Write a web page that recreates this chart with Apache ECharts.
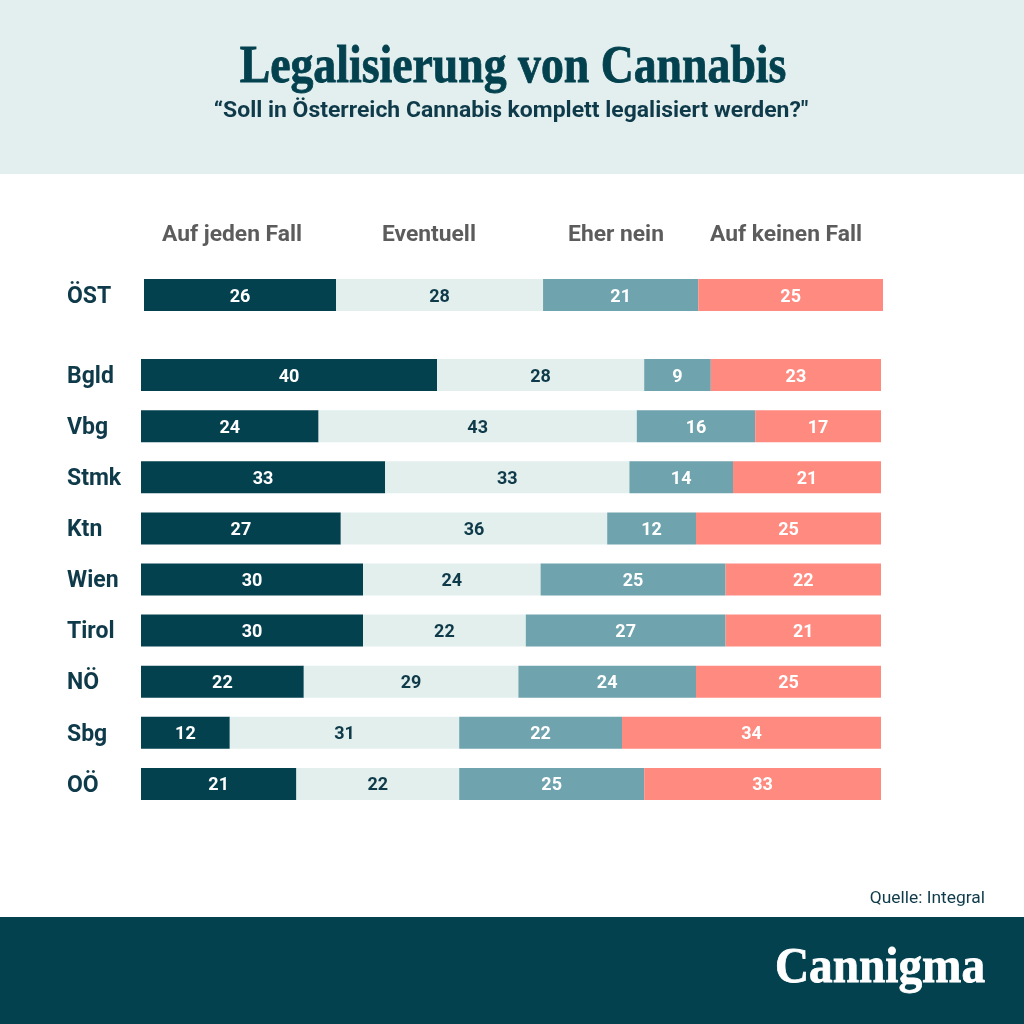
<!DOCTYPE html>
<html>
<head>
<meta charset="utf-8">
<title>Legalisierung von Cannabis</title>
<script src="https://cdn.jsdelivr.net/npm/echarts@6/dist/echarts.min.js"></script>
<style>
html, body { margin: 0; padding: 0; background: #fff; }
#chart { width: 1024px; height: 1024px; }
</style>
</head>
<body>
<div id="chart"></div>
<script>
var answers = ['Auf jeden Fall', 'Eventuell', 'Eher nein', 'Auf keinen Fall'];

var totalRegion = ['ÖST'];
var totalJa = [26];
var totalEventuell = [28];
var totalEher = [21];
var totalNein = [25];

var regions = ['Bgld', 'Vbg', 'Stmk', 'Ktn', 'Wien', 'Tirol', 'NÖ', 'Sbg', 'OÖ'];
var ja = [40, 24, 33, 27, 30, 30, 22, 12, 21];
var eventuell = [28, 43, 33, 36, 24, 22, 29, 31, 22];
var eher = [9, 16, 14, 12, 25, 27, 24, 22, 25];
var nein = [23, 17, 21, 25, 22, 21, 25, 34, 33];

var colors = ['#03414f', '#e2efed', '#6fa3ae', '#ff8a80'];
var labelColors = ['#fff', '#0f3a4a', '#fff', '#fff'];
var FONT = 'Roboto';

// rounded shares do not always add up to 100, the last segment fills the row
function rest(a, b, c) {
    return a.map(function (v, i) {
        return 100 - v - b[i] - c[i];
    });
}

function makeSeries(name, idx, values, shown, axisIdx) {
    return {
        name: name,
        type: 'bar',
        stack: 'row' + axisIdx,
        xAxisIndex: axisIdx,
        yAxisIndex: axisIdx,
        barWidth: 32,
        data: values,
        itemStyle: {color: colors[idx]},
        label: {
            show: true,
            position: 'inside',
            offset: [0, 2],
            color: labelColors[idx],
            fontFamily: FONT,
            fontWeight: 'bold',
            fontSize: 18,
            formatter: function (p) {
                return shown[p.dataIndex];
            }
        },
        silent: true
    };
}

function headerText(text, x) {
    return {
        type: 'text',
        z: 10,
        style: {
            x: x,
            y: 235,
            text: text,
            align: 'center',
            verticalAlign: 'middle',
            fill: '#5c5c5c',
            font: 'bold 22.8px Roboto'
        }
    };
}

var yLabel = {
    align: 'left',
    margin: 74,
    formatter: '{v|{value}}',
    rich: {
        v: {
            padding: [4, 0, 0, 0],
            color: '#0f3a4a',
            fontFamily: FONT,
            fontWeight: 'bold',
            fontSize: 23
        }
    }
};

var option = {
    backgroundColor: '#fff',
    animation: false,
    grid: [
        {left: 144, top: 270, width: 739, height: 50},
        {left: 141, top: 349.5, width: 740, height: 460}
    ],
    xAxis: [
        {gridIndex: 0, type: 'value', min: 0, max: 100, show: false},
        {gridIndex: 1, type: 'value', min: 0, max: 100, show: false}
    ],
    yAxis: [
        {
            gridIndex: 0, type: 'category', inverse: true, data: totalRegion,
            axisLine: {show: false}, axisTick: {show: false},
            axisLabel: Object.assign({}, yLabel, {margin: 77})
        },
        {
            gridIndex: 1, type: 'category', inverse: true, data: regions,
            axisLine: {show: false}, axisTick: {show: false},
            axisLabel: yLabel
        }
    ],
    series: [
        makeSeries(answers[0], 0, totalJa, totalJa, 0),
        makeSeries(answers[1], 1, totalEventuell, totalEventuell, 0),
        makeSeries(answers[2], 2, totalEher, totalEher, 0),
        makeSeries(answers[3], 3, rest(totalJa, totalEventuell, totalEher), totalNein, 0),
        makeSeries(answers[0], 0, ja, ja, 1),
        makeSeries(answers[1], 1, eventuell, eventuell, 1),
        makeSeries(answers[2], 2, eher, eher, 1),
        makeSeries(answers[3], 3, rest(ja, eventuell, eher), nein, 1)
    ],
    graphic: [
        {type: 'rect', z: -1, shape: {x: 0, y: 0, width: 1024, height: 174}, style: {fill: '#e2efee'}},
        {type: 'rect', z: -1, shape: {x: 0, y: 917, width: 1024, height: 107}, style: {fill: '#03414f'}},
        {
            type: 'text', z: 10, x: 513, y: 69, scaleX: 0.88,
            style: {
                x: 0, y: 0, text: 'Legalisierung von Cannabis',
                align: 'center', verticalAlign: 'middle',
                fill: '#03414f', stroke: '#03414f', lineWidth: 0.8,
                font: 'bold 52px "Liberation Serif"'
            }
        },
        {
            type: 'text', z: 10,
            style: {
                x: 511, y: 111, text: '“Soll in Österreich Cannabis komplett legalisiert werden?"',
                align: 'center', verticalAlign: 'middle',
                fill: '#0f3a4a', font: 'bold 22.95px Roboto'
            }
        },
        headerText(answers[0], 232),
        headerText(answers[1], 429),
        headerText(answers[2], 616),
        headerText(answers[3], 786),
        {
            type: 'text', z: 10,
            style: {
                x: 985, y: 899, text: 'Quelle: Integral',
                align: 'right', verticalAlign: 'middle',
                fill: '#0f3a4a', font: '400 17.4px Roboto'
            }
        },
        {
            type: 'text', z: 10, x: 985, y: 969, scaleX: 0.945,
            style: {
                x: 0, y: 0, text: 'Cannigma',
                align: 'right', verticalAlign: 'middle',
                fill: '#fff', stroke: '#fff', lineWidth: 0.8,
                font: 'bold 50px "Liberation Serif"'
            }
        }
    ]
};

var chart = echarts.init(document.getElementById('chart'));
chart.setOption(option);
</script>
</body>
</html>
